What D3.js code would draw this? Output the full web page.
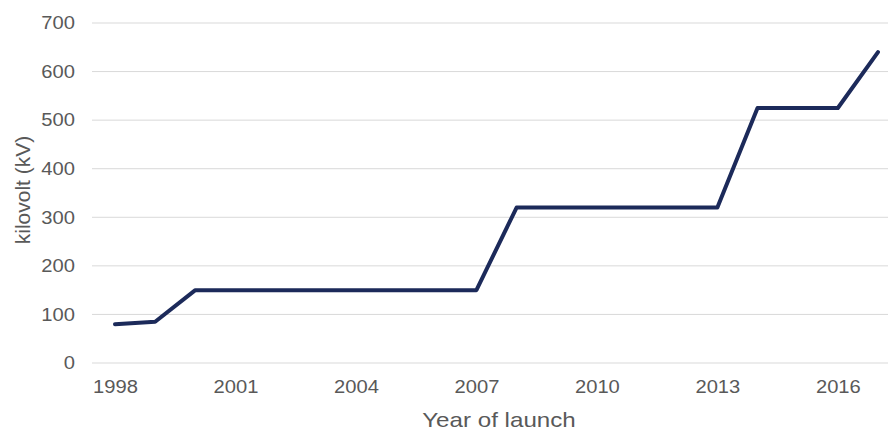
<!DOCTYPE html>
<html>
<head>
<meta charset="utf-8">
<script src="https://cdn.jsdelivr.net/npm/d3@7"></script>
<style>
  html, body { margin: 0; padding: 0; background: #fff; }
  svg { display: block; font-family: "Liberation Sans", Arial, sans-serif; }
</style>
</head>
<body>
<svg id="chart" width="888" height="430"></svg>
<script>
// HVDC cable voltage by year of launch
const years = [1998, 1999, 2000, 2001, 2002, 2003, 2004, 2005, 2006, 2007,
               2008, 2009, 2010, 2011, 2012, 2013, 2014, 2015, 2016, 2017];
const kilovolts = [80, 85, 150, 150, 150, 150, 150, 150, 150, 150,
                   320, 320, 320, 320, 320, 320, 525, 525, 525, 640];
const yTicks = [0, 100, 200, 300, 400, 500, 600, 700];
const xTickYears = [1998, 2001, 2004, 2007, 2010, 2013, 2016];

const svg = d3.select("#chart");
const textColor = "#595959";
const widen = 1.12; // slightly wide lettering for horizontal labels

function stretch(sel) {
  sel.each(function () {
    const w = this.getComputedTextLength();
    d3.select(this).attr("textLength", w * widen).attr("lengthAdjust", "spacingAndGlyphs");
  });
}

const x = d3.scalePoint().domain(years).range([115, 878]);
const y = d3.scaleLinear().domain([0, 700]).range([363, 23]);

// horizontal gridlines
svg.append("g")
  .selectAll("line")
  .data(yTicks)
  .join("line")
  .attr("x1", 92).attr("x2", 888)
  .attr("y1", d => y(d)).attr("y2", d => y(d))
  .attr("stroke", "#d9d9d9").attr("stroke-width", 1);

// y axis labels
const yAxis = d3.axisLeft(y).tickValues(yTicks).tickSize(0).tickPadding(0);
svg.append("g")
  .attr("transform", "translate(75,0)")
  .call(yAxis)
  .call(g => g.select(".domain").remove())
  .call(g => g.selectAll("text")
    .attr("fill", textColor).style("font-size", "18px")
    .style("font-family", "'Liberation Sans', Arial, sans-serif")
    .call(stretch));

// x axis labels
const xAxis = d3.axisBottom(x).tickValues(xTickYears).tickSize(0).tickPadding(0).tickFormat(d3.format("d"));
svg.append("g")
  .attr("transform", "translate(0,380)")
  .call(xAxis)
  .call(g => g.select(".domain").remove())
  .call(g => g.selectAll("text")
    .attr("fill", textColor).style("font-size", "18px")
    .style("font-family", "'Liberation Sans', Arial, sans-serif")
    .call(stretch));

// axis titles
svg.append("text")
  .attr("x", 499).attr("y", 427)
  .attr("text-anchor", "middle")
  .attr("fill", textColor)
  .style("font-size", "21px")
  .text("Year of launch")
  .each(function () {
    const w = this.getComputedTextLength();
    d3.select(this).attr("textLength", w * 1.15).attr("lengthAdjust", "spacingAndGlyphs");
  });

svg.append("text")
  .attr("transform", "translate(30,190) rotate(-90)")
  .attr("text-anchor", "middle")
  .attr("fill", textColor)
  .style("font-size", "21px")
  .text("kilovolt (kV)");

// voltage line
const line = d3.line()
  .x((d, i) => x(years[i]))
  .y(d => y(d));

svg.append("path")
  .datum(kilovolts)
  .attr("d", line)
  .attr("fill", "none")
  .attr("stroke", "#1c2a5a")
  .attr("stroke-width", 4)
  .attr("stroke-linejoin", "round")
  .attr("stroke-linecap", "round");
</script>
</body>
</html>
